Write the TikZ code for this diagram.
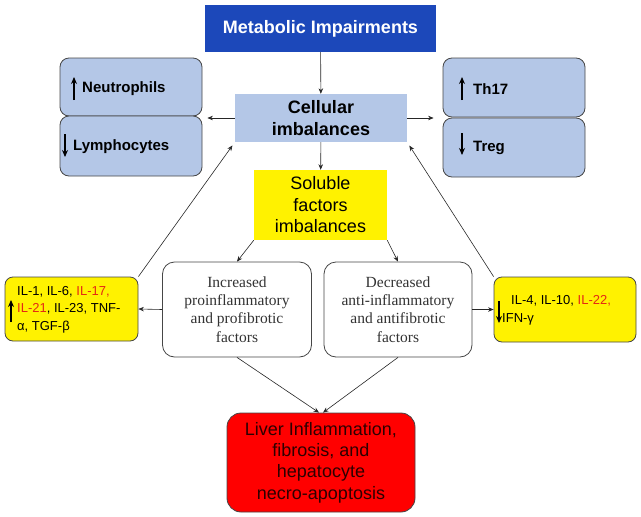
\documentclass[tikz,border=0pt]{standalone}
\usepackage{fontspec}
\setmainfont{Liberation Sans}
\newfontfamily\serifx{Liberation Serif}
\usetikzlibrary{arrows.meta}
\definecolor{metablue}{RGB}{28,72,186}
\definecolor{cellblue}{RGB}{180,199,231}
\definecolor{cytored}{RGB}{228,40,20}
\definecolor{livred}{RGB}{255,0,0}
\definecolor{edgegray}{RGB}{70,70,70}
\definecolor{livtext}{RGB}{45,0,0}
\begin{document}
\begin{tikzpicture}[x=1pt,y=-1pt,
  arr/.style={-{Stealth[length=5.5pt,width=4.5pt]}, line width=0.6pt, draw=black!85},
  bigarr/.style={-{Stealth[length=7pt,width=6pt]}, line width=1.6pt, draw=black},
  cellbox/.style={draw=edgegray, fill=cellblue, rounded corners=9pt, line width=0.8pt, minimum width=142pt},
  whitebox/.style={draw=edgegray, fill=white, rounded corners=12pt, line width=0.8pt,
    minimum width=149pt, minimum height=95pt, align=center, text=black!80,
    font=\serifx\fontsize{15.5}{18.3}\selectfont},
  cytobox/.style={draw=edgegray, fill=yellow, rounded corners=8pt, line width=0.8pt, minimum height=64pt},
  cytotext/.style={anchor=west, inner sep=0pt, align=left, font=\fontsize{13}{17.5}\selectfont},
  lbl/.style={anchor=west, inner sep=0pt, font=\bfseries\fontsize{15}{18}\selectfont}
]
\useasboundingbox (0,0) rectangle (641,517);

% top
\node[fill=metablue, minimum width=231pt, minimum height=47pt, text=white,
  font=\bfseries\fontsize{18}{21}\selectfont] (meta) at (320.5,28.5) {Metabolic Impairments};
\node[fill=cellblue, minimum width=172pt, minimum height=48pt, align=center,
  font=\bfseries\fontsize{18}{22}\selectfont] (cell) at (321,118) {Cellular\\imbalances};
\node[fill=yellow, minimum width=133pt, minimum height=70pt, align=center,
  font=\fontsize{18}{21.5}\selectfont] (sol) at (320.5,205) {Soluble\\factors\\imbalances};

% cell boxes
\node[cellbox, minimum height=58pt] (neu) at (131,87) {};
\node[cellbox, minimum height=60pt] (lym) at (131,146) {};
\node[cellbox, minimum height=59pt] (th) at (514,87.5) {};
\node[cellbox, minimum height=59pt] (treg) at (514,147.5) {};
\node[lbl] (neut) at (82,89) {Neutrophils};
\node[lbl] (lymt) at (73,147) {Lymphocytes};
\node[lbl] (tht) at (473,89) {Th17};
\node[lbl] (tregt) at (473,148) {Treg};
\draw[bigarr] (74,100) -- (74,77);
\draw[bigarr] (65,134) -- (65,157);
\draw[bigarr] (462,100) -- (462,77);
\draw[bigarr] (462,133) -- (462,155);

% factor boxes
\node[whitebox] (inc) at (237,309.5) {Increased\\proinflammatory\\and profibrotic\\factors};
\node[whitebox, minimum width=148pt] (dec) at (398,309.5) {Decreased\\anti-inflammatory\\and antifibrotic\\factors};

% cytokine boxes
\node[cytobox, minimum width=133pt] (ly) at (71.5,309) {};
\node[cytotext] (lyt) at (17,309.5) {IL-1, IL-6, \textcolor{cytored}{IL-17,}\\\textcolor{cytored}{IL-21}, IL-23, TNF-\\α, TGF-β};
\draw[bigarr] (11,322) -- (11,300);
\node[cytobox, minimum width=142pt, minimum height=65pt] (ry) at (565,309.5) {};
\node[cytotext] (ryt) at (502,310.5) {\hspace*{9pt}IL-4, IL-10, \textcolor{cytored}{IL-22,}\\IFN-γ};
\draw[bigarr] (499,301) -- (499,323);

% liver
\node[draw=edgegray, fill=livred, rounded corners=14pt, line width=0.8pt, minimum width=188pt,
  minimum height=99pt, align=center, text=livtext, font=\fontsize{18}{21.3}\selectfont]
  (liv) at (321,462.5) {Liver Inflammation,\\fibrosis, and\\hepatocyte\\necro-apoptosis};

% connectors
\draw[arr] (meta) -- (cell);
\draw[arr] (cell) -- (sol);
\draw[arr, shorten >=5pt] (cell.west) -- (cell.west -| neu.east);
\draw[arr, shorten >=9pt] (cell.east) -- (cell.east -| th.west);
\draw[arr] (sol.south west) -- (inc.north);
\draw[arr] (sol.south east) -- (dec.north);
\draw[arr] (inc.west) -- (ly.east);
\draw[arr] (dec.east) -- (ry.west);
\draw[arr, shorten >=4pt] (ly.north east) -- (cell.south west);
\draw[arr, shorten >=4pt] (ry.north west) -- (cell.south east);
\draw[arr] (inc.south) -- ([xshift=-2pt]liv.north);
\draw[arr] (dec.south) -- ([xshift=2pt]liv.north);
\end{tikzpicture}
\end{document}
